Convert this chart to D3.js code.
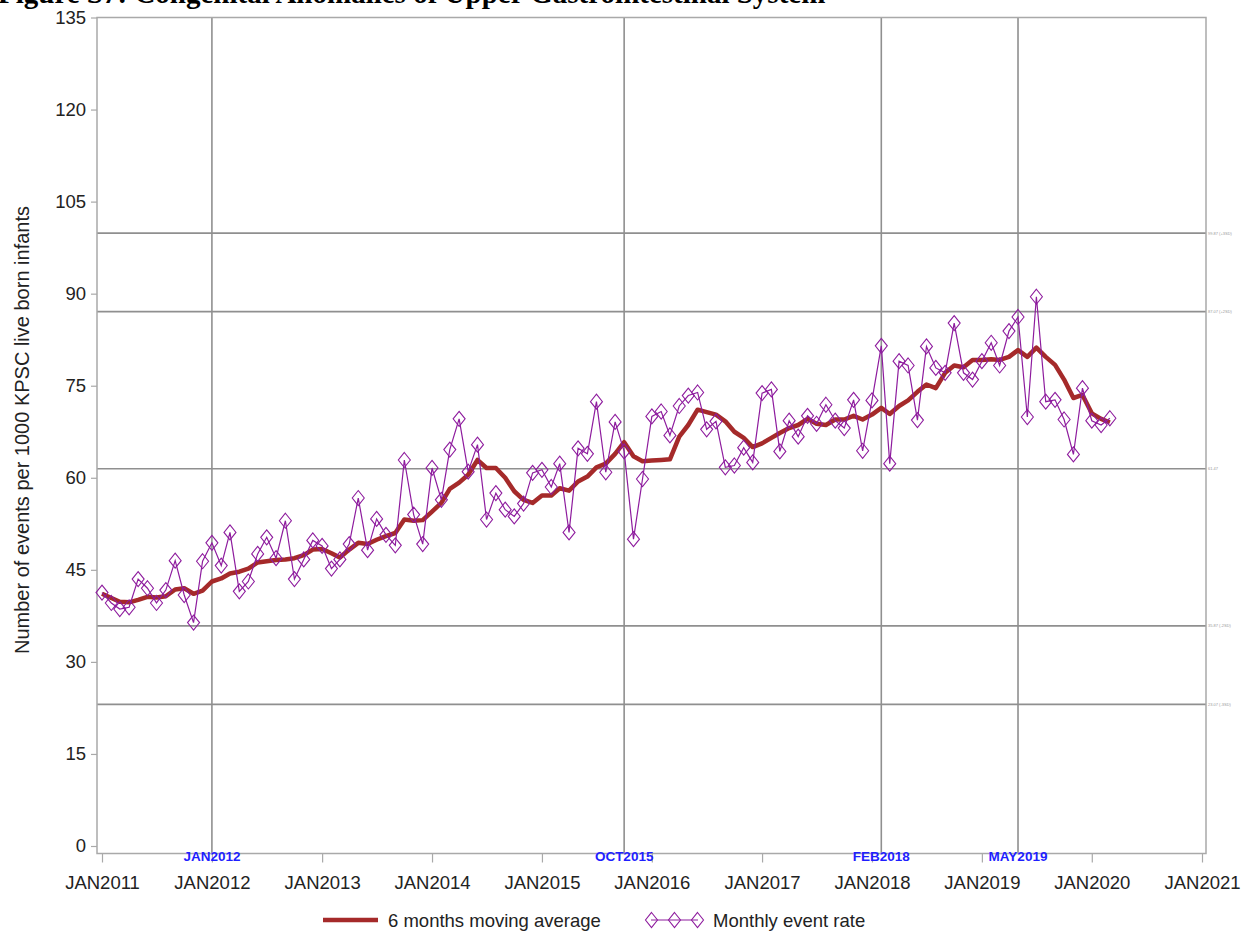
<!DOCTYPE html>
<html>
<head>
<meta charset="utf-8">
<script src="https://cdn.jsdelivr.net/npm/d3@7"></script>
<style>
  html, body { margin: 0; padding: 0; background: #fff; overflow: hidden; }
  svg { display: block; font-family: "Liberation Sans", Arial, sans-serif; }
</style>
</head>
<body>
<svg id="chart" width="1246" height="938"></svg>
<script>
// monthly rates, JAN2011 .. MAR2020
var startMonth = '2011-01';
var monthlyRate = [
  41.3, 39.6, 38.6, 38.9, 43.5, 42.0, 39.6, 41.7, 46.5, 40.9, 36.4, 46.4,
  49.4, 45.7, 51.1, 41.5, 43.1, 47.6, 50.3, 46.9, 53.0, 43.5, 46.7, 49.8,
  48.9, 45.2, 46.7, 49.2, 56.7, 48.2, 53.3, 50.7, 49.0, 62.9, 54.0, 49.2,
  61.6, 56.4, 64.6, 69.6, 61.0, 65.4, 53.2, 57.5, 54.8, 53.7, 55.8, 60.8,
  61.3, 58.5, 62.3, 51.1, 64.8, 63.9, 72.4, 60.9, 69.1, 64.3, 50.0, 59.8,
  70.0, 70.8, 66.9, 71.7, 73.4, 73.9, 67.9, 69.2, 61.7, 62.0, 64.9, 62.5,
  73.8, 74.4, 64.3, 69.3, 66.7, 70.1, 68.8, 71.9, 69.3, 68.1, 72.7, 64.4,
  72.6, 81.5, 62.3, 79.0, 78.3, 69.4, 81.4, 77.9, 77.1, 85.2, 77.1, 76.0,
  79.0, 82.0, 78.3, 83.9, 86.2, 69.9, 89.5, 72.4, 72.7, 69.5, 63.8, 74.6,
  69.3, 68.6, 69.7
];
var movingAvg = [
  41.1, 40.4, 39.8, 39.7, 40.1, 40.6, 40.5, 40.7, 41.8, 42.0, 41.1, 41.6,
  43.1, 43.6, 44.4, 44.7, 45.2, 46.2, 46.4, 46.6, 46.7, 46.9, 47.4, 48.3,
  48.4, 47.7, 47.0, 48.3, 49.4, 49.2, 49.9, 50.5, 51.0, 53.2, 53.0, 53.1,
  54.5, 55.9, 58.2, 59.2, 60.5, 62.9, 61.6, 61.6, 60.0, 57.8, 56.4, 55.9,
  57.1, 57.1, 58.3, 57.9, 59.4, 60.2, 61.7, 62.3, 63.9, 65.8, 63.5, 62.7,
  62.8, 62.9, 63.0, 66.7, 68.6, 71.1, 70.7, 70.3, 69.2, 67.5, 66.5, 65.0,
  65.6, 66.5, 67.3, 68.1, 68.6, 69.6, 68.8, 68.6, 69.5, 69.5, 70.1, 69.5,
  70.3, 71.4, 70.4, 71.7, 72.6, 74.0, 75.2, 74.6, 77.1, 78.3, 78.0, 79.2,
  79.2, 79.3, 79.2, 79.7, 80.8, 79.7, 81.2, 79.7, 78.4, 76.0, 73.0, 73.5,
  70.5, 69.6, 69.0
];

var yTicks = [0, 15, 30, 45, 60, 75, 90, 105, 120, 135];
var xTickYears = [2011, 2012, 2013, 2014, 2015, 2016, 2017, 2018, 2019, 2020, 2021];

// vertical reference dates and labels
var refDates = ['2012-01', '2015-10', '2018-02', '2019-05'];
var refDateLabels = ['JAN2012', 'OCT2015', 'FEB2018', 'MAY2019'];

// horizontal reference levels (mean +/- SD bands)
var refLevels = [99.87, 87.07, 61.47, 35.87, 23.07];
var refLevelLabels = ['99.87 (+3SD)', '87.07 (+2SD)', '61.47', '35.87 (-2SD)', '23.07 (-3SD)'];

var titleText = 'Figure S7: Congenital Anomalies of Upper Gastrointestinal System';
var yLabel = 'Number of events per 1000 KPSC live born infants';
var legendLabels = ['6 months moving average', 'Monthly event rate'];

var parseMonth = d3.timeParse('%Y-%m');
var fmtMonth = function (d) { return d3.timeFormat('%b%Y')(d).toUpperCase(); };

var start = parseMonth(startMonth);
var months = monthlyRate.map(function (v, i) { return d3.timeMonth.offset(start, i); });

var frame = { left: 97, right: 1206, top: 17.5, bottom: 853.5 };
var fontMain = '18.5px';

var x = d3.scaleTime()
  .domain([new Date(2011, 0, 1), new Date(2021, 0, 1)])
  .range([102, 1202]);

var y = d3.scaleLinear()
  .domain([0, 135])
  .range([846, 17.5]);

var svg = d3.select('#chart');

// title, clipped by the top of the page as in the source figure
svg.append('text')
  .attr('x', -2)
  .attr('y', 3)
  .style('font-family', '"Liberation Serif", "Times New Roman", serif')
  .style('font-weight', 'bold')
  .style('font-size', '29px')
  .text(titleText);

// horizontal reference lines
var hRef = svg.append('g');
hRef.selectAll('line')
  .data(refLevels)
  .enter()
  .append('line')
  .attr('x1', frame.left)
  .attr('x2', frame.right)
  .attr('y1', function (d) { return y(d); })
  .attr('y2', function (d) { return y(d); })
  .attr('stroke', '#8f8f8f')
  .attr('stroke-width', 1.6);

hRef.selectAll('text')
  .data(refLevels)
  .enter()
  .append('text')
  .attr('x', frame.right + 2)
  .attr('y', function (d) { return y(d) + 1.5; })
  .style('font-size', '4px')
  .attr('fill', '#9a9a9a')
  .text(function (d, i) { return refLevelLabels[i]; });

// vertical reference lines
svg.append('g')
  .selectAll('line')
  .data(refDates)
  .enter()
  .append('line')
  .attr('x1', function (d) { return x(parseMonth(d)); })
  .attr('x2', function (d) { return x(parseMonth(d)); })
  .attr('y1', frame.top)
  .attr('y2', frame.bottom)
  .attr('stroke', '#8f8f8f')
  .attr('stroke-width', 1.6);

// frame
svg.append('rect')
  .attr('x', frame.left)
  .attr('y', frame.top)
  .attr('width', frame.right - frame.left)
  .attr('height', frame.bottom - frame.top)
  .attr('fill', 'none')
  .attr('stroke', '#a9a9a9')
  .attr('stroke-width', 1.5);

// y axis
var yAxis = svg.append('g')
  .attr('transform', 'translate(' + frame.left + ',0)')
  .call(d3.axisLeft(y).tickValues(yTicks).tickSize(6).tickPadding(5));
yAxis.select('.domain').remove();
yAxis.selectAll('line').attr('stroke', '#a9a9a9').attr('stroke-width', 1.2);
yAxis.selectAll('text')
  .attr('fill', '#222')
  .style('font-family', '"Liberation Sans", Arial, sans-serif')
  .style('font-size', fontMain);

svg.append('text')
  .attr('transform', 'translate(29,430) rotate(-90)')
  .attr('text-anchor', 'middle')
  .attr('fill', '#222')
  .style('font-size', '20px')
  .text(yLabel);

// x axis
var xAxis = svg.append('g')
  .attr('transform', 'translate(0,' + frame.bottom + ')')
  .call(d3.axisBottom(x)
    .tickValues(xTickYears.map(function (yr) { return new Date(yr, 0, 1); }))
    .tickFormat(fmtMonth)
    .tickSize(9)
    .tickPadding(13));
xAxis.select('.domain').remove();
xAxis.selectAll('line').attr('stroke', '#a9a9a9').attr('stroke-width', 1.2);
xAxis.selectAll('text')
  .attr('fill', '#222')
  .style('font-family', '"Liberation Sans", Arial, sans-serif')
  .style('font-size', fontMain);

// reference date labels sitting on the bottom edge
svg.append('g')
  .selectAll('text')
  .data(refDates)
  .enter()
  .append('text')
  .attr('x', function (d) { return x(parseMonth(d)); })
  .attr('y', 861)
  .attr('text-anchor', 'middle')
  .attr('fill', '#1f1fff')
  .style('font-size', '13.5px')
  .style('font-weight', 'bold')
  .text(function (d, i) { return refDateLabels[i]; });

// moving average
var lineGen = d3.line()
  .x(function (d) { return x(d.date); })
  .y(function (d) { return y(d.value); });

var maData = movingAvg.map(function (v, i) { return { date: months[i], value: v }; });
var rateData = monthlyRate.map(function (v, i) { return { date: months[i], value: v }; });

svg.append('path')
  .datum(maData)
  .attr('d', lineGen)
  .attr('fill', 'none')
  .attr('stroke', '#a52a2a')
  .attr('stroke-width', 4.5)
  .attr('stroke-linejoin', 'round');

// monthly event rate
var purple = '#8e1c9e';
var diamond = 'M0,-7.5L6,0L0,7.5L-6,0Z';

svg.append('path')
  .datum(rateData)
  .attr('d', lineGen)
  .attr('fill', 'none')
  .attr('stroke', purple)
  .attr('stroke-width', 1.2);

svg.append('g')
  .selectAll('path')
  .data(rateData)
  .enter()
  .append('path')
  .attr('d', diamond)
  .attr('transform', function (d) { return 'translate(' + x(d.date) + ',' + y(d.value) + ')'; })
  .attr('fill', 'none')
  .attr('stroke', purple)
  .attr('stroke-width', 1.1);

// legend
var legend = svg.append('g');
legend.append('line')
  .attr('x1', 323).attr('x2', 378)
  .attr('y1', 920).attr('y2', 920)
  .attr('stroke', '#a52a2a')
  .attr('stroke-width', 4.5);
legend.append('text')
  .attr('x', 388).attr('y', 926.5)
  .attr('fill', '#222')
  .style('font-size', fontMain)
  .text(legendLabels[0]);

legend.append('line')
  .attr('x1', 651).attr('x2', 698)
  .attr('y1', 920).attr('y2', 920)
  .attr('stroke', purple)
  .attr('stroke-width', 1.2);
legend.selectAll('.lg-marker')
  .data([651.5, 674.5, 697.5])
  .enter()
  .append('path')
  .attr('class', 'lg-marker')
  .attr('d', diamond)
  .attr('transform', function (d) { return 'translate(' + d + ',920)'; })
  .attr('fill', 'none')
  .attr('stroke', purple)
  .attr('stroke-width', 1.1);
legend.append('text')
  .attr('x', 713).attr('y', 926.5)
  .attr('fill', '#222')
  .style('font-size', fontMain)
  .text(legendLabels[1]);
</script>
</body>
</html>
